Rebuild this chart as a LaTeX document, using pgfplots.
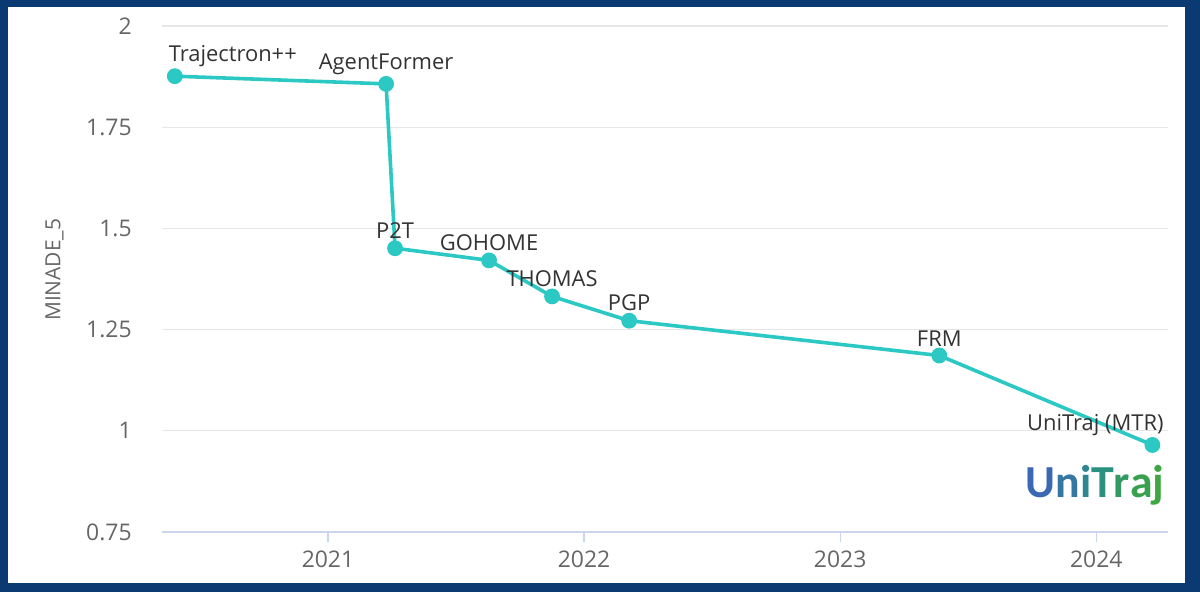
\documentclass[border=0pt]{standalone}
\usepackage{pgfplots}
\usepackage{pgfplotstable}
\pgfplotsset{compat=1.18}
\usepackage{fontspec}
\setmainfont{Open Sans}
\newfontfamily\logofont{Carlito}
\definecolor{framec}{HTML}{0B3A73}
\definecolor{axisblue}{HTML}{CCD6EB}
\definecolor{gridgray}{HTML}{E6E6E6}
\definecolor{labelgray}{HTML}{666666}
\definecolor{labeldark}{HTML}{333333}
\definecolor{tealc}{HTML}{2CC9C4}
\definecolor{lc1}{HTML}{3A68B4}
\definecolor{lc2}{HTML}{3477A2}
\definecolor{lc3}{HTML}{2E8690}
\definecolor{lc4}{HTML}{2A9080}
\definecolor{lc5}{HTML}{319A62}
\definecolor{lc6}{HTML}{38A04E}
\definecolor{lc7}{HTML}{3FA644}
\pgfplotstableread{
x y dx label
2020.402 1.876 29 Trajectron++
2021.227 1.857 0 AgentFormer
2021.262 1.451 0 P2T
2021.629 1.421 0 GOHOME
2021.875 1.332 0 THOMAS
2022.176 1.272 0 PGP
2023.387 1.186 0 FRM
2024.219 0.965 -28.5 {UniTraj (MTR)}
}\datatable
\begin{document}
\begin{tikzpicture}
\fill[framec] (0,0) rectangle (600bp,296bp);
\fill[white] (4bp,4.5bp) rectangle (592.5bp,292.5bp);
\begin{axis}[
  at={(81bp,30bp)}, anchor=south west,
  scale only axis, width=503bp, height=253bp,
  xmin=2020.352, xmax=2024.28, ymin=0.75, ymax=2,
  axis x line*=bottom, axis y line*=left,
  x axis line style={draw=axisblue, line width=0.6bp, -},
  y axis line style={draw=none, -},
  xtick={2021,2022,2023,2024}, xticklabels={2021,2022,2023,2024},
  ytick={0.75,1,1.25,1.5,1.75,2}, yticklabels={0.75,1,1.25,1.5,1.75,2},
  ymajorgrids, grid style={draw=gridgray, line width=0.6bp},
  tick align=outside, major tick length=5bp,
  xtick style={draw=axisblue, line width=0.6bp},
  ytick style={draw=none},
  ticklabel style={font=\fontsize{11.5}{13}\selectfont, text=labelgray},
  yticklabel style={anchor=east, inner sep=0pt, xshift=-10bp},
  xticklabel style={anchor=north, inner sep=0pt, yshift=-4bp},
  ylabel={MINADE\_5},
  ylabel style={at={(axis description cs:-0.107,0.518)}, anchor=center, font=\fontsize{10.5}{12}\selectfont, text=labelgray},
  clip=false,
]
\addplot[color=tealc, line width=1.8bp, mark=*, mark size=3.7bp,
  mark options={fill=tealc, draw=tealc, line width=0.5bp},
  nodes near coords, point meta=explicit symbolic,
  visualization depends on={\thisrow{dx} \as \dx},
  nodes near coords style={anchor=south, yshift=3.5bp, xshift=\dx bp, inner sep=1bp,
    font=\fontsize{11}{13}\selectfont, text=labeldark}]
  table[x=x, y=y, meta=label] {\datatable};
\node[anchor=base east, inner sep=0pt, font=\logofont\bfseries\fontsize{23}{23}\selectfont]
  at (rel axis cs:0.997,0.069)
  {\textcolor{lc1}{U}\textcolor{lc2}{n}\textcolor{lc3}{i}\textcolor{lc4}{T}\textcolor{lc5}{r}\textcolor{lc6}{a}\textcolor{lc7}{j}};
\end{axis}
\end{tikzpicture}
\end{document}
